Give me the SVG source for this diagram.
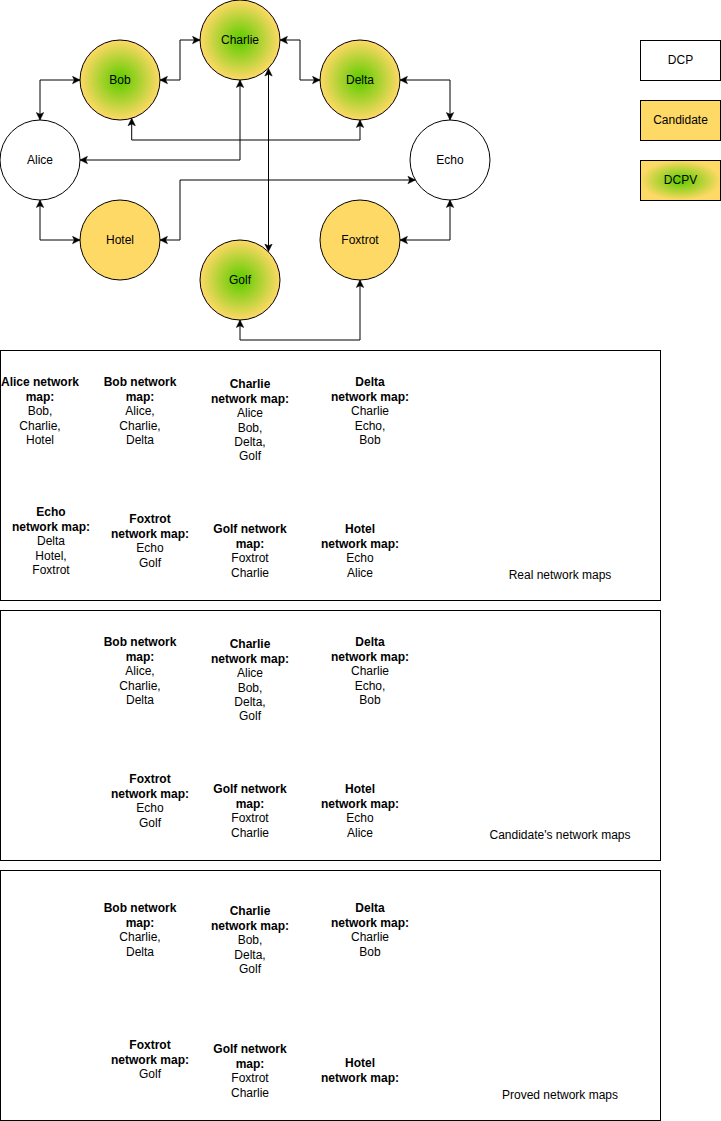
<svg xmlns="http://www.w3.org/2000/svg" width="721" height="1121" viewBox="0 0 721 1121">
<style>
text{font-family:"Liberation Sans",Arial,Helvetica,sans-serif;font-size:12px;fill:#000;text-anchor:middle}
.b{font-weight:bold}
.node{stroke:#000;stroke-width:1}
.dcp{fill:#fff}
.cand{fill:#FFD966}
.dcpv{fill:url(#g)}
.edge{fill:none;stroke:#000;stroke-width:1;marker-start:url(#a);marker-end:url(#a)}
.panel{fill:none;stroke:#000;stroke-width:1}
</style>
<defs>
<radialGradient id="g" cx="50%" cy="50%" r="50%">
<stop offset="0%" stop-color="#66CC00"/>
<stop offset="12%" stop-color="#6DCD08"/>
<stop offset="100%" stop-color="#FFD966"/>
</radialGradient>
<marker id="a" markerUnits="userSpaceOnUse" markerWidth="9" markerHeight="9" viewBox="0 0 9 9" refX="8" refY="4.5" orient="auto-start-reverse">
<path d="M8,4.5 L0.5,0.8 L2.3,4.5 L0.5,8.2 Z" fill="#000" stroke="#000" stroke-width="0.5"/>
</marker>
</defs>
<rect width="721" height="1121" fill="#fff"/>
<g id="connectors">
<path class="edge" d="M40,120 L40,80 L80,80"/>
<path class="edge" d="M160,80 L180,80 L180,40 L200,40"/>
<path class="edge" d="M280,40 L300,40 L300,80 L320,80"/>
<path class="edge" d="M400,80 L450,80 L450,120"/>
<path class="edge" d="M131.7,118.3 L131.7,140 L360,140 L360,120"/>
<path class="edge" d="M240,80 L240,160 L80,160"/>
<path class="edge" d="M268.5,68.5 L268.5,251.5"/>
<path class="edge" d="M160,240 L180,240 L180,180 L415.4,180"/>
<path class="edge" d="M40,200 L40,240 L80,240"/>
<path class="edge" d="M450,200 L450,240 L400,240"/>
<path class="edge" d="M240,320 L240,340 L360,340 L360,280"/>
</g>
<g id="charlie"><circle class="node dcpv" cx="240" cy="40" r="40"/><text x="240" y="44.3">Charlie</text></g>
<g id="bob"><circle class="node dcpv" cx="120" cy="80" r="40"/><text x="120" y="84.3">Bob</text></g>
<g id="delta"><circle class="node dcpv" cx="360" cy="80" r="40"/><text x="360" y="84.3">Delta</text></g>
<g id="alice"><circle class="node dcp" cx="40" cy="160" r="40"/><text x="40" y="164.3">Alice</text></g>
<g id="echo"><circle class="node dcp" cx="450" cy="160" r="40"/><text x="450" y="164.3">Echo</text></g>
<g id="hotel"><circle class="node cand" cx="120" cy="240" r="40"/><text x="120" y="244.3">Hotel</text></g>
<g id="foxtrot"><circle class="node cand" cx="360" cy="240" r="40"/><text x="360" y="244.3">Foxtrot</text></g>
<g id="golf"><circle class="node dcpv" cx="240" cy="280" r="40"/><text x="240" y="284.3">Golf</text></g>
<g id="legend-dcp"><rect class="node dcp" x="640.5" y="40.5" width="80" height="40"/><text x="680.5" y="64.3">DCP</text></g>
<g id="legend-candidate"><rect class="node cand" x="640.5" y="100.5" width="80" height="40"/><text x="680.5" y="124.3">Candidate</text></g>
<g id="legend-dcpv"><rect class="node dcpv" x="640.5" y="160.5" width="80" height="40"/><text x="680.5" y="184.3">DCPV</text></g>

<g id="panel-real">
<rect class="panel" x="0.5" y="350.5" width="660" height="250"/>
<text><tspan class="b" x="40" y="386.3">Alice network</tspan><tspan class="b" x="40" y="400.7">map:</tspan><tspan x="40" y="415.1">Bob,</tspan><tspan x="40" y="429.5">Charlie,</tspan><tspan x="40" y="443.9">Hotel</tspan></text>
<text><tspan class="b" x="140" y="386.3">Bob network</tspan><tspan class="b" x="140" y="400.7">map:</tspan><tspan x="140" y="415.1">Alice,</tspan><tspan x="140" y="429.5">Charlie,</tspan><tspan x="140" y="443.9">Delta</tspan></text>
<text><tspan class="b" x="250" y="388.3">Charlie</tspan><tspan class="b" x="250" y="402.7">network map:</tspan><tspan x="250" y="417.1">Alice</tspan><tspan x="250" y="431.5">Bob,</tspan><tspan x="250" y="445.9">Delta,</tspan><tspan x="250" y="460.3">Golf</tspan></text>
<text><tspan class="b" x="370" y="386.3">Delta</tspan><tspan class="b" x="370" y="400.7">network map:</tspan><tspan x="370" y="415.1">Charlie</tspan><tspan x="370" y="429.5">Echo,</tspan><tspan x="370" y="443.9">Bob</tspan></text>
<text><tspan class="b" x="51" y="516.3">Echo</tspan><tspan class="b" x="51" y="530.7">network map:</tspan><tspan x="51" y="545.1">Delta</tspan><tspan x="51" y="559.5">Hotel,</tspan><tspan x="51" y="573.9">Foxtrot</tspan></text>
<text><tspan class="b" x="150" y="523.3">Foxtrot</tspan><tspan class="b" x="150" y="537.7">network map:</tspan><tspan x="150" y="552.1">Echo</tspan><tspan x="150" y="566.5">Golf</tspan></text>
<text><tspan class="b" x="250" y="533.3">Golf network</tspan><tspan class="b" x="250" y="547.7">map:</tspan><tspan x="250" y="562.1">Foxtrot</tspan><tspan x="250" y="576.5">Charlie</tspan></text>
<text><tspan class="b" x="360" y="533.3">Hotel</tspan><tspan class="b" x="360" y="547.7">network map:</tspan><tspan x="360" y="562.1">Echo</tspan><tspan x="360" y="576.5">Alice</tspan></text>
<text x="560" y="579.3">Real network maps</text>
</g>

<g id="panel-candidate">
<rect class="panel" x="0.5" y="610.5" width="660" height="250"/>
<text><tspan class="b" x="140" y="646.3">Bob network</tspan><tspan class="b" x="140" y="660.7">map:</tspan><tspan x="140" y="675.1">Alice,</tspan><tspan x="140" y="689.5">Charlie,</tspan><tspan x="140" y="703.9">Delta</tspan></text>
<text><tspan class="b" x="250" y="648.3">Charlie</tspan><tspan class="b" x="250" y="662.7">network map:</tspan><tspan x="250" y="677.1">Alice</tspan><tspan x="250" y="691.5">Bob,</tspan><tspan x="250" y="705.9">Delta,</tspan><tspan x="250" y="720.3">Golf</tspan></text>
<text><tspan class="b" x="370" y="646.3">Delta</tspan><tspan class="b" x="370" y="660.7">network map:</tspan><tspan x="370" y="675.1">Charlie</tspan><tspan x="370" y="689.5">Echo,</tspan><tspan x="370" y="703.9">Bob</tspan></text>
<text><tspan class="b" x="150" y="783.3">Foxtrot</tspan><tspan class="b" x="150" y="797.7">network map:</tspan><tspan x="150" y="812.1">Echo</tspan><tspan x="150" y="826.5">Golf</tspan></text>
<text><tspan class="b" x="250" y="793.3">Golf network</tspan><tspan class="b" x="250" y="807.7">map:</tspan><tspan x="250" y="822.1">Foxtrot</tspan><tspan x="250" y="836.5">Charlie</tspan></text>
<text><tspan class="b" x="360" y="793.3">Hotel</tspan><tspan class="b" x="360" y="807.7">network map:</tspan><tspan x="360" y="822.1">Echo</tspan><tspan x="360" y="836.5">Alice</tspan></text>
<text x="560" y="839.3">Candidate's network maps</text>
</g>

<g id="panel-proved">
<rect class="panel" x="0.5" y="870.5" width="660" height="250"/>
<text><tspan class="b" x="140" y="912.3">Bob network</tspan><tspan class="b" x="140" y="926.7">map:</tspan><tspan x="140" y="941.1">Charlie,</tspan><tspan x="140" y="955.5">Delta</tspan></text>
<text><tspan class="b" x="250" y="915.3">Charlie</tspan><tspan class="b" x="250" y="929.7">network map:</tspan><tspan x="250" y="944.1">Bob,</tspan><tspan x="250" y="958.5">Delta,</tspan><tspan x="250" y="972.9">Golf</tspan></text>
<text><tspan class="b" x="370" y="912.3">Delta</tspan><tspan class="b" x="370" y="926.7">network map:</tspan><tspan x="370" y="941.1">Charlie</tspan><tspan x="370" y="955.5">Bob</tspan></text>
<text><tspan class="b" x="150" y="1049.3">Foxtrot</tspan><tspan class="b" x="150" y="1063.7">network map:</tspan><tspan x="150" y="1078.1">Golf</tspan></text>
<text><tspan class="b" x="250" y="1053.3">Golf network</tspan><tspan class="b" x="250" y="1067.7">map:</tspan><tspan x="250" y="1082.1">Foxtrot</tspan><tspan x="250" y="1096.5">Charlie</tspan></text>
<text><tspan class="b" x="360" y="1067.3">Hotel</tspan><tspan class="b" x="360" y="1081.7">network map:</tspan></text>
<text x="560" y="1099.3">Proved network maps</text>
</g>
</svg>
